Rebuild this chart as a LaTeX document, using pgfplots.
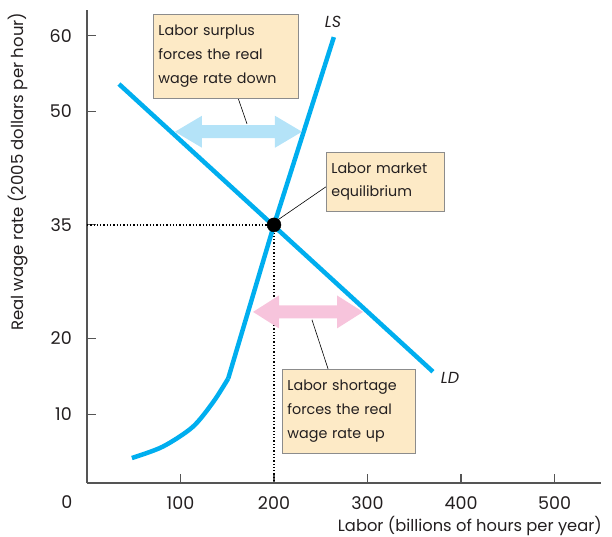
\documentclass[border=0pt]{standalone}
\usepackage{pgfplots}
\pgfplotsset{compat=1.18}
\usepackage{fontspec}
\setmainfont{Poppins}

\definecolor{curve}{HTML}{00AEEF}
\definecolor{lightblue}{HTML}{B4E3F8}
\definecolor{pinkarrow}{HTML}{F7C4DC}
\definecolor{boxfill}{HTML}{FDEAC6}
\definecolor{boxline}{HTML}{8C8C8C}
\definecolor{axisgray}{HTML}{555555}
\definecolor{txt}{HTML}{231F20}

\begin{document}
\begin{tikzpicture}[every node/.style={text=txt}]
\begin{axis}[
  x=0.935pt, y=7.57pt,
  xmin=0, xmax=550, ymin=0.9, ymax=63.4,
  axis lines=left,
  axis line style={axisgray, line width=1.6pt, -},
  tick align=inside,
  major tick length=9pt,
  tick style={axisgray, line width=1.2pt},
  xtick={100,200,300,400,500},
  ytick={10,20,35,50,60},
  /pgf/number format/assume math mode=true,
  tick label style={font=\fontsize{17.5}{20}\selectfont, text=txt},
  xticklabel style={anchor=north, inner sep=0pt, yshift=-13pt},
  yticklabel style={anchor=east, inner sep=0pt, xshift=-15pt},
  clip=false,
]
% dotted guides
\addplot[black, dotted, line width=1.3pt] coordinates {(0,35) (200,35) (200,0.9)};
% labour demand
\addplot[curve, line width=4.5pt] coordinates {(34.2,53.6) (370,15.6)};
% labour supply: curved part, then straight
\addplot[curve, line width=4.5pt, smooth] coordinates {
  (48,4.2) (81,5.7) (113,8.3) (135,11.6) (151,14.7)};
\addplot[curve, line width=4.5pt] coordinates {(151,14.7) (200,35) (264,59.8)};

\coordinate (surplus) at (axis cs:162,47.3);
\coordinate (shortage) at (axis cs:236.4,23.5);

% leaders
\draw[black, line width=0.6pt] (axis cs:161.5,51.78) -- (axis cs:171.1,48.35);
\draw[black, line width=0.6pt] (axis cs:204.3,35.67) -- (axis cs:255.6,40.03);
\draw[black, line width=0.6pt] (axis cs:240.6,22.46) -- (axis cs:257.8,15.98);

% boxes
\tikzset{lbl/.style={draw=boxline, fill=boxfill, line width=0.8pt,
  anchor=north west, align=left, inner xsep=5pt,
  font=\fontsize{14.3}{23.7}\selectfont}}
\node[lbl, text width=135pt, minimum height=84pt] at (axis cs:70.6,62.88)
  {Labor surplus\\forces the real\\wage rate down};
\node[lbl, text width=108pt, minimum height=59pt] at (axis cs:255.6,44.65)
  {Labor market\\equilibrium};
\node[lbl, text width=123pt, minimum height=84pt] at (axis cs:208.6,15.98)
  {Labor shortage\\forces the real\\wage rate up};

% equilibrium
\addplot[only marks, mark=*, mark size=7pt, black] coordinates {(200,35)};

% curve labels
\node[font=\fontsize{16}{18}\selectfont\itshape] at (axis cs:263.1,61.82) {LS};
\node[font=\fontsize{16}{18}\selectfont\itshape] at (axis cs:388.2,14.8) {LD};

% axis titles
\node[rotate=90, font=\fontsize{16.5}{18}\selectfont] at (axis cs:-73.8,42.0)
  {Real wage rate (2005 dollars per hour)};
\node[anchor=base east, inner sep=0pt, font=\fontsize{16.3}{18}\selectfont] at (axis cs:550.8,-5.55)
  {Labor (billions of hours per year)};
\node[anchor=north, inner sep=0pt, font=\fontsize{17.5}{20}\selectfont] at (axis cs:-21.4,-0.79) {0};
\end{axis}
% double arrows
\fill[lightblue, shift={(surplus)}] (-63.5pt,0pt) -- (-36.5pt,16pt) -- (-36.5pt,6.5pt)
  -- (36.5pt,6.5pt) -- (36.5pt,16pt) -- (63.5pt,0pt) -- (36.5pt,-16pt)
  -- (36.5pt,-6.5pt) -- (-36.5pt,-6.5pt) -- (-36.5pt,-16pt) -- cycle;
\fill[pinkarrow, shift={(shortage)}] (-55pt,0pt) -- (-29pt,16.5pt) -- (-29pt,6.5pt)
  -- (29pt,6.5pt) -- (29pt,16.5pt) -- (55pt,0pt) -- (29pt,-16.5pt)
  -- (29pt,-6.5pt) -- (-29pt,-6.5pt) -- (-29pt,-16.5pt) -- cycle;
\path[use as bounding box] (-87pt,-53pt) rectangle (525pt,483pt);
\end{tikzpicture}
\end{document}
